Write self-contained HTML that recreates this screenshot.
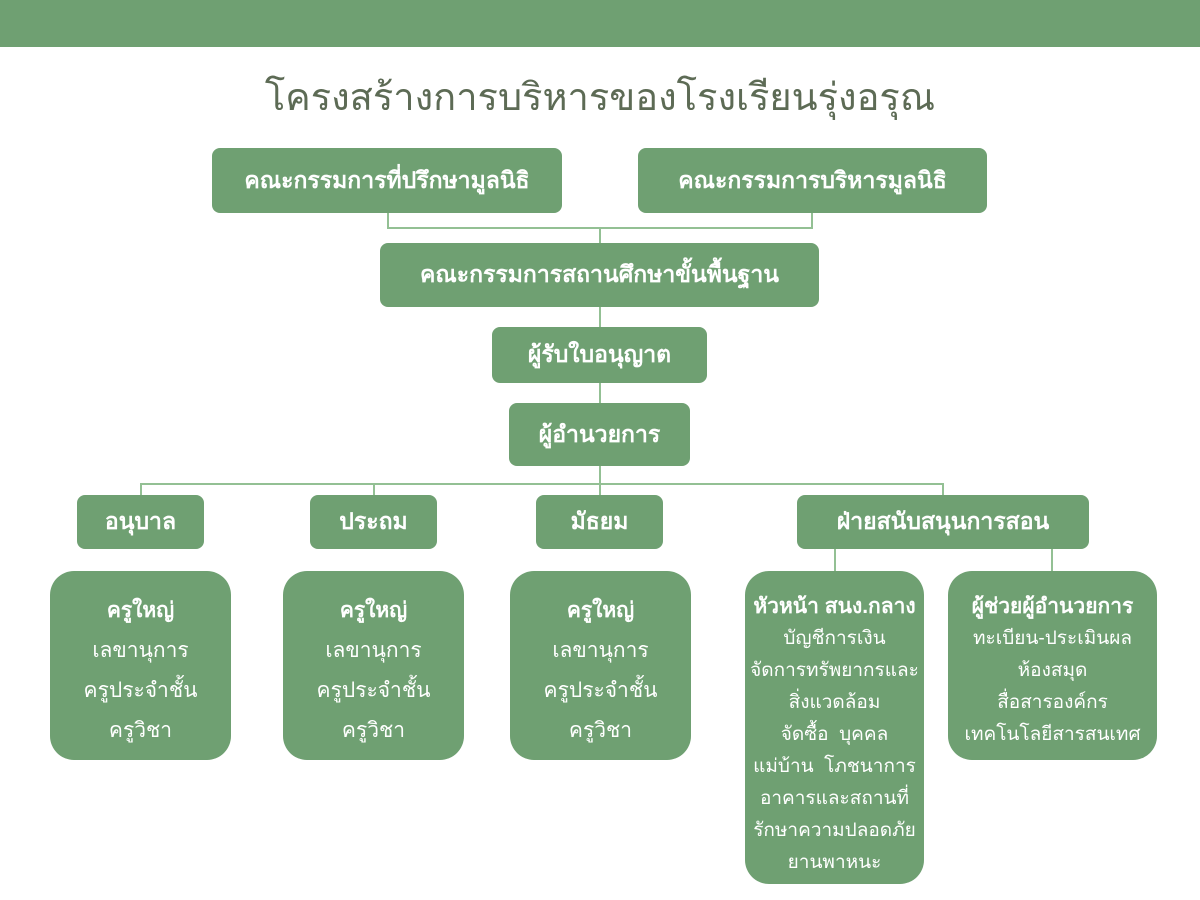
<!DOCTYPE html>
<html><head><meta charset="utf-8"><style>
body{margin:0;width:1200px;height:900px;background:#fff;position:relative;overflow:hidden;font-family:"Liberation Sans","DejaVu Sans",sans-serif}
.bar{position:absolute;left:0;top:0;width:1200px;height:47px;background:#6fa072}
.t{position:absolute;left:0;top:66px;width:1200px;text-align:center;font-size:38px;color:#5d6b55}
.b{position:absolute;background:#6fa072;color:#fff;border-radius:8px;display:flex;align-items:center;justify-content:center;font-weight:bold;font-size:23px;text-align:center}
.c{position:absolute;background:#6fa072;color:#fff;border-radius:24px;text-align:center;font-size:21px;box-sizing:border-box}
.c b{display:block}
.l{position:absolute;background:#93c094}
</style></head><body>
<div class="bar"></div>
<div class="t">โครงสร้างการบริหารของโรงเรียนรุ่งอรุณ</div>
<div class="l" style="left:387px;top:213px;width:2px;height:16px"></div>
<div class="l" style="left:811px;top:213px;width:2px;height:16px"></div>
<div class="l" style="left:387px;top:227px;width:426px;height:2px"></div>
<div class="l" style="left:599px;top:227px;width:2px;height:16px"></div>
<div class="l" style="left:599px;top:307px;width:2px;height:20px"></div>
<div class="l" style="left:599px;top:383px;width:2px;height:20px"></div>
<div class="l" style="left:599px;top:466px;width:2px;height:18px"></div>
<div class="l" style="left:140px;top:483px;width:804px;height:2px"></div>
<div class="l" style="left:140px;top:483px;width:2px;height:12px"></div>
<div class="l" style="left:373px;top:483px;width:2px;height:12px"></div>
<div class="l" style="left:599px;top:483px;width:2px;height:12px"></div>
<div class="l" style="left:942px;top:483px;width:2px;height:12px"></div>
<div class="l" style="left:834px;top:549px;width:2px;height:22px"></div>
<div class="l" style="left:1051px;top:549px;width:2px;height:22px"></div>
<div class="b" style="left:212px;top:148px;width:350px;height:65px">คณะกรรมการที่ปรึกษามูลนิธิ</div>
<div class="b" style="left:638px;top:148px;width:349px;height:65px">คณะกรรมการบริหารมูลนิธิ</div>
<div class="b" style="left:380px;top:243px;width:439px;height:64px">คณะกรรมการสถานศึกษาขั้นพื้นฐาน</div>
<div class="b" style="left:492px;top:327px;width:215px;height:56px">ผู้รับใบอนุญาต</div>
<div class="b" style="left:509px;top:403px;width:181px;height:63px">ผู้อำนวยการ</div>
<div class="b" style="left:77px;top:495px;width:127px;height:54px">อนุบาล</div>
<div class="b" style="left:310px;top:495px;width:127px;height:54px">ประถม</div>
<div class="b" style="left:536px;top:495px;width:127px;height:54px">มัธยม</div>
<div class="b" style="left:797px;top:495px;width:292px;height:54px">ฝ่ายสนับสนุนการสอน</div>
<div class="c" style="left:50px;top:571px;width:181px;height:189px;padding-top:20px;line-height:40px"><b>ครูใหญ่</b>เลขานุการ<br>ครูประจำชั้น<br>ครูวิชา</div>
<div class="c" style="left:283px;top:571px;width:181px;height:189px;padding-top:20px;line-height:40px"><b>ครูใหญ่</b>เลขานุการ<br>ครูประจำชั้น<br>ครูวิชา</div>
<div class="c" style="left:510px;top:571px;width:181px;height:189px;padding-top:20px;line-height:40px"><b>ครูใหญ่</b>เลขานุการ<br>ครูประจำชั้น<br>ครูวิชา</div>
<div class="c" style="left:745px;top:571px;width:179px;height:313px;padding-top:20px;line-height:32px;font-size:19px"><b style="font-size:21px">หัวหน้า สนง.กลาง</b>บัญชีการเงิน<br>จัดการทรัพยากรและ<br>สิ่งแวดล้อม<br>จัดซื้อ&nbsp; บุคคล<br>แม่บ้าน&nbsp; โภชนาการ<br>อาคารและสถานที่<br>รักษาความปลอดภัย<br>ยานพาหนะ</div>
<div class="c" style="left:948px;top:571px;width:209px;height:189px;padding-top:20px;line-height:32px;font-size:19px"><b style="font-size:21px">ผู้ช่วยผู้อำนวยการ</b>ทะเบียน-ประเมินผล<br>ห้องสมุด<br>สื่อสารองค์กร<br>เทคโนโลยีสารสนเทศ</div>
</body></html>
